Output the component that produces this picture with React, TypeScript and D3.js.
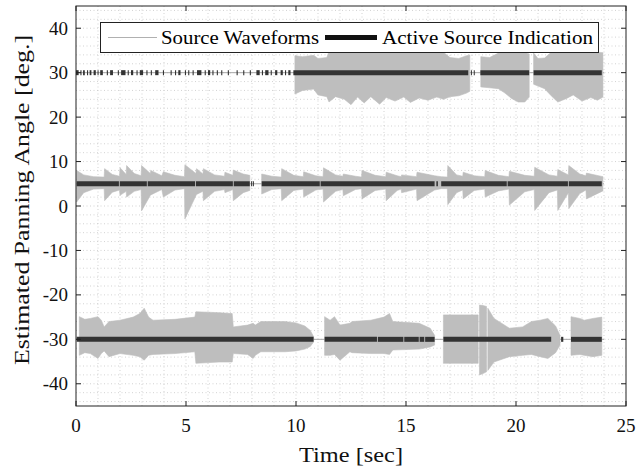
import React from 'react';
import * as d3 from 'd3';

// ---------- data ----------
const xTicks = [0, 5, 10, 15, 20, 25];
const yTicks = [-40, -30, -20, -10, 0, 10, 20, 30, 40];
const sourceAngles = [30, 5, -30];

// waveform envelopes: [time, upper, lower] in degrees, per continuous segment
const wave30 = [
  [
    [9.95, 33.8, 25.2], [10.3, 33.6, 26.0], [10.8, 33.9, 26.3], [11.0, 33.2, 25.0], [11.4, 33.4, 24.6],
    [11.5, 34.8, 23.4], [11.8, 34.9, 24.6], [12.2, 35.0, 24.0], [12.5, 35.0, 22.8], [12.8, 35.0, 24.5],
    [13.1, 35.0, 23.2], [13.4, 35.0, 24.6], [13.8, 35.0, 22.9], [14.1, 35.0, 24.4], [14.5, 35.0, 23.6],
    [14.9, 35.0, 24.5], [15.2, 35.0, 23.3], [15.6, 35.0, 24.3], [16.0, 35.0, 23.8], [16.4, 35.0, 24.5],
    [16.7, 34.6, 24.0], [17.0, 33.4, 24.6], [17.4, 33.2, 24.8], [17.75, 33.8, 25.4], [17.9, 34.0, 25.8],
  ],
  [
    [18.4, 33.6, 26.8], [18.8, 33.4, 26.6], [19.2, 34.4, 26.4], [19.5, 34.8, 25.4], [19.8, 34.9, 24.2],
    [20.1, 34.8, 23.4], [20.4, 34.6, 23.4], [20.6, 34.2, 24.5],
  ],
  [
    [20.8, 34.4, 27.4], [21.0, 33.2, 27.0], [21.3, 33.3, 26.4], [21.6, 34.6, 24.8], [21.9, 34.8, 23.4],
    [22.3, 34.8, 24.2], [22.6, 34.5, 25.0], [23.0, 34.7, 23.6], [23.4, 34.8, 24.4], [23.7, 34.6, 23.8],
    [23.95, 34.5, 24.5],
  ],
];

const wave5 = [
  [
    [0.03, 8.0, 0.9], [0.35, 7.0, 3.0], [0.8, 6.6, 3.8], [1.28, 6.5, 3.9], [1.3, 8.4, 1.2], [1.65, 7.1, 3.1],
    [1.98, 6.7, 3.6], [2.0, 8.6, 2.4], [2.28, 7.1, 3.3], [2.3, 9.1, 2.0], [2.65, 7.3, 3.3], [2.96, 6.8, 3.7],
    [2.98, 9.1, -1.1], [3.38, 7.3, 2.4], [3.4, 8.0, 2.5], [3.9, 6.8, 3.7], [3.97, 7.7, 2.0], [4.5, 6.9, 3.6],
    [4.93, 6.6, 3.9], [4.95, 9.3, -2.9], [5.45, 7.3, 2.3], [5.48, 8.4, 2.6], [5.77, 7.2, 3.3], [5.79, 8.4, 1.2],
    [6.3, 7.0, 3.3], [6.75, 6.7, 3.7], [6.77, 7.6, 3.0], [7.13, 6.9, 3.7], [7.15, 8.1, 1.2], [7.6, 7.2, 3.0],
    [7.9, 6.9, 3.5],
  ],
  [
    [8.44, 7.2, 2.7], [8.9, 6.7, 3.7], [9.33, 6.5, 3.9], [9.35, 8.4, 1.2], [9.9, 6.9, 3.5], [10.33, 6.6, 3.8],
    [10.35, 7.7, 2.0], [10.9, 6.8, 3.6], [11.23, 6.6, 3.8], [11.25, 8.6, 0.9], [11.8, 7.0, 3.3], [12.13, 6.7, 3.7],
    [12.15, 7.2, 2.3], [12.7, 6.7, 3.7], [12.98, 6.5, 3.9], [13.0, 8.0, 1.6], [13.6, 6.9, 3.5], [14.08, 6.6, 3.8],
    [14.1, 7.6, 1.2], [14.6, 6.8, 3.5], [14.78, 6.6, 3.8], [14.8, 7.0, 3.0], [15.48, 6.6, 3.8], [15.5, 7.6, 1.2],
    [16.3, 6.8, 3.6], [16.6, 6.6, 3.9], [16.88, 6.5, 3.9], [16.9, 9.1, 0.3], [17.3, 7.0, 3.0], [17.58, 6.7, 3.6],
    [17.6, 7.6, 1.6], [18.1, 6.8, 3.5], [18.58, 6.6, 3.8], [18.6, 8.0, 2.0], [19.2, 6.9, 3.4], [19.68, 6.6, 3.8],
    [19.7, 7.8, 0.2], [20.4, 6.9, 3.2], [20.83, 6.7, 3.7], [20.85, 8.7, -1.0], [21.5, 7.0, 3.0], [21.88, 6.7, 3.6],
    [21.9, 8.2, -1.0], [22.38, 7.0, 3.0], [22.4, 9.1, -0.6], [22.9, 7.2, 2.8], [23.18, 6.8, 3.6], [23.2, 7.4, 1.6],
    [23.95, 6.6, 3.4],
  ],
];

const waveM30 = [
  [
    [0.15, -24.9, -33.6], [0.4, -25.5, -33.0], [0.65, -25.3, -33.2], [1.0, -24.9, -34.3], [1.15, -25.7, -33.2],
    [1.28, -27.2, -32.6], [1.5, -26.0, -33.9], [2.0, -25.7, -33.2], [2.6, -25.0, -33.6], [2.9, -24.2, -33.9],
    [3.1, -23.0, -34.7], [3.3, -25.0, -33.6], [3.5, -25.7, -33.4], [4.5, -25.5, -33.2], [5.4, -25.0, -32.8],
    [5.45, -23.8, -35.4], [6.5, -24.0, -35.1], [7.1, -24.2, -35.1], [7.15, -27.2, -33.2], [7.8, -26.8, -33.4],
    [8.05, -26.4, -34.3], [8.15, -26.8, -33.6], [8.4, -26.0, -32.8], [9.5, -26.0, -32.8], [10.0, -26.3, -32.6],
    [10.4, -27.0, -32.2], [10.65, -28.0, -31.6], [10.8, -29.4, -30.6],
  ],
  [
    [11.3, -24.9, -33.6], [11.55, -25.7, -33.6], [11.75, -24.9, -33.4], [12.0, -26.8, -34.7], [12.45, -26.4, -32.8],
    [12.55, -26.0, -33.0], [13.4, -25.7, -33.2], [14.0, -25.0, -33.2], [14.25, -24.2, -33.4], [14.4, -26.0, -32.4],
    [15.6, -26.4, -32.2], [16.1, -27.5, -31.7], [16.3, -29.1, -31.3],
  ],
  [[16.7, -24.5, -35.4], [18.28, -24.5, -35.4]],
  [[18.34, -22.3, -38.0], [18.5, -22.4, -37.7], [18.66, -22.6, -37.3]],
  [
    [18.72, -23.0, -37.0], [19.0, -25.3, -35.1], [19.7, -27.5, -33.9], [20.3, -27.2, -33.6], [20.7, -26.0, -33.4],
    [21.1, -25.7, -33.9], [21.45, -25.3, -34.3], [21.8, -27.0, -33.0], [22.0, -29.1, -31.3],
  ],
  [[22.5, -24.9, -33.6], [22.9, -25.3, -33.4], [23.1, -25.7, -33.6], [23.5, -25.3, -33.9], [23.9, -25.0, -33.6]],
];

// active source indication intervals [start, end] in seconds
const active30 = [
  [0.0, 0.12], [0.2, 0.25], [0.32, 0.4], [0.5, 0.55], [0.62, 0.7], [0.8, 0.9], [0.98, 1.02], [1.1, 1.22],
  [1.4, 1.45], [1.55, 1.68], [1.9, 1.95], [2.05, 2.25], [2.35, 2.4], [2.5, 2.6], [2.75, 2.8], [2.9, 3.05],
  [3.2, 3.25], [3.4, 3.45], [3.6, 3.75], [3.95, 4.0], [4.3, 4.35], [4.5, 4.55], [4.65, 4.75], [4.95, 5.0],
  [5.1, 5.15], [5.3, 5.35], [5.5, 5.7], [5.85, 5.9], [6.0, 6.1], [6.2, 6.25], [6.4, 6.45], [6.6, 6.65],
  [6.9, 6.95], [7.3, 7.35], [7.6, 7.65], [7.9, 7.95], [8.2, 8.35], [8.45, 8.5], [8.6, 8.75], [8.85, 8.9],
  [9.05, 9.15], [9.3, 9.4], [9.5, 9.55], [9.65, 9.75], [9.88, 17.83], [17.95, 17.98], [18.08, 18.11],
  [18.38, 20.6], [20.8, 23.9],
];
const active5 = [
  [0.03, 1.95], [1.99, 3.22], [3.26, 5.41], [5.45, 7.13], [7.17, 7.9], [7.96, 8.0], [8.04, 8.08],
  [8.44, 11.08], [11.12, 16.3], [16.38, 16.45], [16.6, 19.58], [19.62, 22.36], [22.4, 23.9],
];
const activeM30 = [
  [0.03, 10.8], [11.3, 13.68], [13.72, 14.88], [14.92, 15.58], [15.62, 15.83], [15.87, 16.3],
  [16.7, 21.6], [22.05, 22.15], [22.5, 23.9],
];

const legendLabels = ['Source Waveforms', 'Active Source Indication'];
const xLabel = 'Time [sec]';
const yLabel = 'Estimated Panning Angle [deg.]';

const FONT = "'Liberation Serif', 'Times New Roman', serif";
const WAVE_COLOR = '#bebebe';
const IND_COLOR = '#333333';

export default function App() {
  const W = 644, H = 468;
  const x = d3.scaleLinear().domain([0, 25]).range([76, 626]);
  const y = d3.scaleLinear().domain([-45, 45]).range([406, 6]);
  const [x0, x1] = x.range();
  const [y0, y1] = [y(-45), y(45)];

  const area = d3.area<number[]>()
    .x(d => x(d[0]))
    .y0(d => y(d[2]))
    .y1(d => y(d[1]));

  const minorX = d3.range(1, 25, 1);
  const minorY = d3.range(-44, 45, 2);

  const waves = [wave30, wave5, waveM30];
  const actives = [active30, active5, activeM30];

  return (
    <svg width={W} height={H} style={{ position: 'absolute', left: 0, top: 0, background: '#fff' }}
      fontFamily={FONT}>
      <rect x={0} y={0} width={W} height={H} fill="#fff" />
      {/* grid */}
      <g stroke="#c8c8c8" strokeWidth={0.8} strokeDasharray="1,2.5">
        {minorX.map(v => <line key={'gx' + v} x1={x(v)} x2={x(v)} y1={y1} y2={y0} />)}
        {minorY.map(v => <line key={'gy' + v} x1={x0} x2={x1} y1={y(v)} y2={y(v)} />)}
      </g>
      {/* thin waveform baselines */}
      {sourceAngles.map(a => (
        <line key={'b' + a} x1={x(0)} x2={x(24)} y1={y(a)} y2={y(a)} stroke="#a8a8a8" strokeWidth={1} />
      ))}
      {/* waveforms */}
      {waves.map((segs, i) => segs.map((seg, j) => (
        <path key={'w' + i + '-' + j} d={area(seg) || ''} fill={WAVE_COLOR} stroke={WAVE_COLOR} strokeWidth={0.6} />
      )))}
      {/* active indication */}
      {actives.map((ints, i) => ints.map((iv, j) => (
        <line key={'a' + i + '-' + j} x1={x(iv[0])} x2={Math.max(x(iv[1]), x(iv[0]) + 1)}
          y1={y(sourceAngles[i])} y2={y(sourceAngles[i])} stroke={IND_COLOR} strokeWidth={5} />
      )))}
      {/* legend */}
      <g>
        <rect x={100.5} y={22.5} width={498} height={30} fill="#fff" stroke="#222" strokeWidth={1} />
        <line x1={108} x2={157} y1={37.5} y2={37.5} stroke="#b0b0b0" strokeWidth={1} />
        <text x={161} y={43.5} fontSize={19} textLength={158} lengthAdjust="spacingAndGlyphs">{legendLabels[0]}</text>
        <line x1={325} x2={377} y1={37.5} y2={37.5} stroke="#111" strokeWidth={5} />
        <text x={382} y={43.5} fontSize={19} textLength={211} lengthAdjust="spacingAndGlyphs">{legendLabels[1]}</text>
      </g>
      {/* axes box */}
      <rect x={x0} y={y1} width={x1 - x0} height={y0 - y1} fill="none" stroke="#222" strokeWidth={1} />
      {/* ticks */}
      <g stroke="#222" strokeWidth={1}>
        {xTicks.map(v => (
          <g key={'xt' + v}>
            <line x1={x(v)} x2={x(v)} y1={y0} y2={y0 - 5} />
            <line x1={x(v)} x2={x(v)} y1={y1} y2={y1 + 5} />
          </g>
        ))}
        {yTicks.map(v => (
          <g key={'yt' + v}>
            <line x1={x0} x2={x0 + 5} y1={y(v)} y2={y(v)} />
            <line x1={x1} x2={x1 - 5} y1={y(v)} y2={y(v)} />
          </g>
        ))}
      </g>
      {xTicks.map(v => (
        <text key={'xl' + v} x={x(v)} y={432} fontSize={19} textAnchor="middle" fill="#111">{v}</text>
      ))}
      {yTicks.map(v => (
        <text key={'yl' + v} x={68} y={y(v) + 6.5} fontSize={19} textAnchor="end" fill="#111">{v}</text>
      ))}
      <text x={351} y={462} fontSize={22} textAnchor="middle" textLength={104} lengthAdjust="spacingAndGlyphs" fill="#111">{xLabel}</text>
      <text transform="translate(29,200) rotate(-90)" fontSize={21.5} textAnchor="middle" textLength={330}
        lengthAdjust="spacingAndGlyphs" fill="#111">{yLabel}</text>
    </svg>
  );
}
